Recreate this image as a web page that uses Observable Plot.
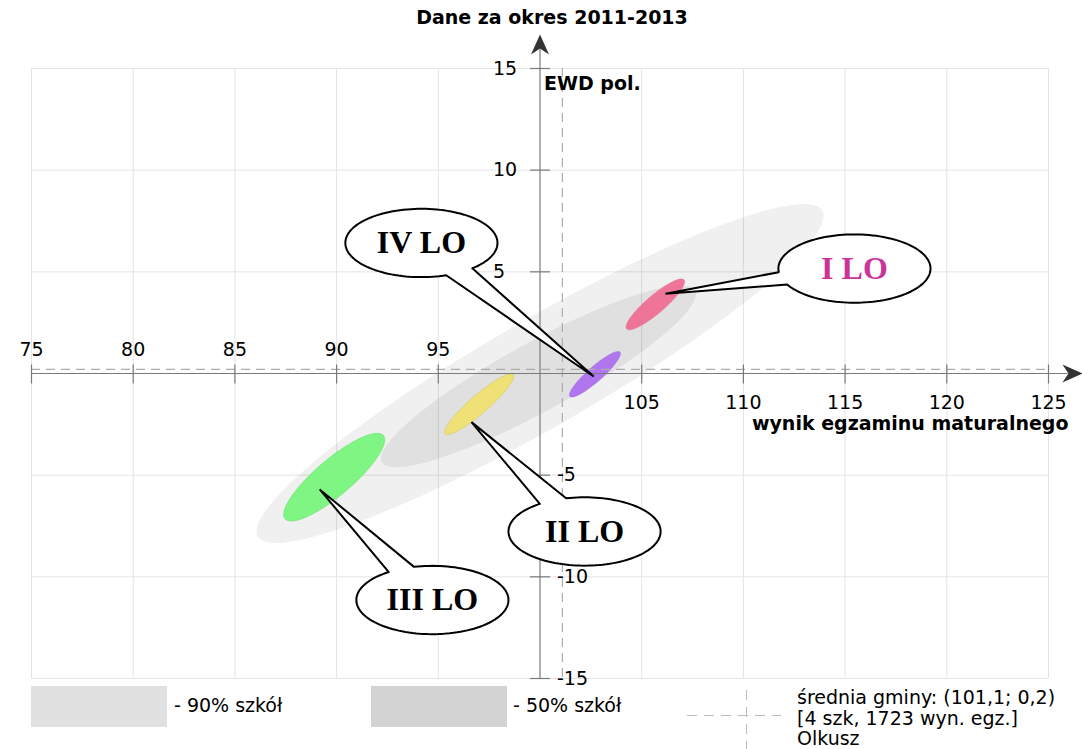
<!DOCTYPE html>
<html>
<head>
<meta charset="utf-8">
<script src="https://cdn.jsdelivr.net/npm/d3@7"></script>
<script src="https://cdn.jsdelivr.net/npm/@observablehq/plot@0.6"></script>
<style>
  body { margin: 0; background: #fff; font-family: "DejaVu Sans", sans-serif; color: #000; }
  #wrap { position: relative; width: 1082px; height: 749px; overflow: hidden; background: #fff; }
  #title { width: 1082px; height: 34px; line-height: 34px; box-sizing: border-box; padding-left: 22px;
           text-align: center; font-weight: bold; font-size: 19px; }
  #chart svg { display: block; }
  #legend { position: relative; width: 1082px; height: 63px; font-size: 19px; }
  #legend .sw { position: absolute; top: 0; width: 136px; height: 41px; }
  #legend .lab { position: absolute; top: 9px; line-height: 21px; white-space: nowrap; }
  #legend .dh { position: absolute; left: 687px; top: 29px; width: 94px; height: 1px;
                background: repeating-linear-gradient(to right, #bbb 0 10px, transparent 10px 17px); }
  #legend .dv { position: absolute; left: 746px; top: 4px; width: 1px; height: 59px;
                background: repeating-linear-gradient(to bottom, #bbb 0 10px, transparent 10px 17px); }
  #legend .info { position: absolute; left: 797px; top: 1px; line-height: 20.5px; white-space: nowrap; }
</style>
</head>
<body>
<div id="wrap">
  <div id="title"></div>
  <div id="chart"></div>
  <div id="legend"></div>
</div>
<script>
// ---------------- data ----------------
const titleText = "Dane za okres 2011-2013";
const xLabel = "wynik egzaminu maturalnego";
const yLabel = "EWD pol.";

// axis ticks
const xTicks = [75, 80, 85, 90, 95, 105, 110, 115, 120, 125];
const xTickLabels = ["75", "80", "85", "90", "95", "105", "110", "115", "120", "125"];
const yTicks = [15, 10, 5, -5, -10, -15];
const yTickLabels = ["15", "10", "5", "-5", "-10", "-15"];
const xGrid = [75, 80, 85, 90, 95, 105, 110, 115, 120, 125];
const yGrid = [15, 10, 5, -5, -10, -15];

// reference bands (ellipses of all schools)
const bandNames = ["90% szkół", "50% szkół"];
const bandCenterX = [100.0, 99.92];
const bandCenterY = [0.0, -0.14];
const bandMajor = [16.03, 8.78];
const bandMinor = [2.65, 1.69];
const bandAngle = [30.0, 28.7];

// schools (matura score, EWD) with their confidence ellipses
const schools = ["I LO", "II LO", "III LO", "IV LO"];
const schoolMatura = [105.67, 97.01, 89.88, 102.70];
const schoolEwd = [3.40, -1.51, -5.10, -0.04];
const schoolMajor = [1.85, 2.22, 3.17, 1.64];
const schoolMinor = [0.44, 0.45, 0.89, 0.36];
const schoolAngle = [40.5, 41.0, 40.3, 41.5];

// callout annotations (data units)
const calloutX = [115.46, 102.19, 94.71, 94.17];
const calloutY = [5.16, -7.77, -11.14, 6.42];
const calloutTipX = [106.17, 96.63, 89.17, 102.64];
const calloutTipY = [3.92, -2.39, -5.70, -0.15];
const calloutBaseFrom = [186, 104, 104, -71];
const calloutBaseTo = [208, 126, 125, -48];

// municipality average
const gminaX = 101.1;
const gminaY = 0.2;
const gminaInfo = ["średnia gminy: (101,1; 0,2)", "[4 szk, 1723 wyn. egz.]", "Olkusz"];

// ---------------- styles ----------------
const schoolFill = ["#ee6f93", "#efe070", "#78f47c", "#ad70ef"];
const schoolStroke = ["#e0668a", "#cfc05a", "#62d866", "#9a60dc"];
const labelFill = ["#cc3399", "#000", "#000", "#000"];
const bandOpacity = [0.06, 0.068];
const calloutRx = 3.74, calloutRy = 1.68;
const xAxisEnd = 126.67, yAxisEnd = 16.67;
const fs = 19;

// ---------------- helpers ----------------
function ellipse(cx, cy, a, b, deg, id, n = 120) {
  const r = deg * Math.PI / 180, pts = [];
  for (let k = 0; k <= n; k++) {
    const t = 2 * Math.PI * k / n;
    const u = a * Math.cos(t), v = b * Math.sin(t);
    pts.push({x: cx + u * Math.cos(r) - v * Math.sin(r), y: cy + u * Math.sin(r) + v * Math.cos(r), id});
  }
  return pts;
}
function callout(i, n = 120) {
  const cx = calloutX[i], cy = calloutY[i];
  const t1 = calloutBaseFrom[i], t2 = calloutBaseTo[i];
  const span = 360 - (t2 - t1), pts = [];
  for (let k = 0; k <= n; k++) {
    const t = (t2 + span * k / n) * Math.PI / 180;
    pts.push({x: cx + calloutRx * Math.cos(t), y: cy + calloutRy * Math.sin(t), id: i});
  }
  pts.push({x: calloutTipX[i], y: calloutTipY[i], id: i});
  pts.push({...pts[0]});
  return pts;
}

const arrowHead = {draw(ctx) { ctx.moveTo(0, 0); ctx.lineTo(-20, -9); ctx.lineTo(-14, 0); ctx.lineTo(-20, 9); ctx.closePath(); }};
const vTick = {draw(ctx) { ctx.moveTo(0, -9); ctx.lineTo(0, 10); }};
const hTick = {draw(ctx) { ctx.moveTo(-10, 0); ctx.lineTo(10, 0); }};

const xTickRows = xTicks.map((v, i) => ({v, label: xTickLabels[i]}));
const yTickRows = yTicks.map((v, i) => ({v, label: yTickLabels[i]}));

// ---------------- marks ----------------
const marks = [
  Plot.ruleX(xGrid, {stroke: "#e4e4e4", strokeWidth: 1}),
  Plot.ruleY(yGrid, {stroke: "#e4e4e4", strokeWidth: 1}),
];
bandNames.forEach((name, i) => {
  marks.push(Plot.line(ellipse(bandCenterX[i], bandCenterY[i], bandMajor[i], bandMinor[i], bandAngle[i], name),
    {x: "x", y: "y", z: "id", fill: "black", fillOpacity: bandOpacity[i], stroke: "none"}));
});
schools.forEach((s, i) => {
  marks.push(Plot.line(ellipse(schoolMatura[i], schoolEwd[i], schoolMajor[i], schoolMinor[i], schoolAngle[i], s),
    {x: "x", y: "y", z: "id", fill: schoolFill[i], fillOpacity: 0.95, stroke: schoolStroke[i], strokeWidth: 0.8, strokeOpacity: 0.6}));
});
marks.push(
  // municipality mean (dashed)
  Plot.ruleX([gminaX], {stroke: "#adadad", strokeWidth: 1.2, strokeDasharray: "9,6"}),
  Plot.ruleY([gminaY], {stroke: "#adadad", strokeWidth: 1.2, strokeDasharray: "9,6"}),
  // axes
  Plot.ruleY([0], {x1: 75, x2: xAxisEnd - 0.7, stroke: "#7a7a7a", strokeWidth: 1.2}),
  Plot.ruleX([100], {y1: -15, y2: yAxisEnd - 0.7, stroke: "#7a7a7a", strokeWidth: 1.2}),
  Plot.dot([0], {x: () => xAxisEnd, y: () => 0, symbol: arrowHead, fill: "#333", stroke: "none"}),
  Plot.dot([0], {x: () => 100, y: () => yAxisEnd, symbol: arrowHead, rotate: -90, fill: "#333", stroke: "none"}),
  Plot.dot(xTicks, {x: d => d, y: () => 0, symbol: vTick, fill: "none", stroke: "#7a7a7a", strokeWidth: 1.2}),
  Plot.dot(yTicks, {x: () => 100, y: d => d, symbol: hTick, fill: "none", stroke: "#7a7a7a", strokeWidth: 1.2}),
  // tick labels
  Plot.text(xTickRows.filter(d => d.v < 100), {x: "v", y: () => 0, text: "label", dy: -24, fontSize: fs, fontFamily: "DejaVu Sans", fill: "black"}),
  Plot.text(xTickRows.filter(d => d.v > 100), {x: "v", y: () => 0, text: "label", dy: 29, fontSize: fs, fontFamily: "DejaVu Sans", fill: "black"}),
  Plot.text(yTickRows.filter(d => d.v > 0), {x: () => 100, y: "v", text: "label", dx: -47, textAnchor: "start", fontSize: fs, fontFamily: "DejaVu Sans", fill: "black"}),
  Plot.text(yTickRows.filter(d => d.v < 0), {x: () => 100, y: "v", text: "label", dx: 17, textAnchor: "start", fontSize: fs, fontFamily: "DejaVu Sans", fill: "black"}),
  // axis titles
  Plot.text([yLabel], {x: () => 100, y: () => 15, text: d => d, dx: 4, dy: 15, textAnchor: "start", fontSize: fs, fontWeight: "bold", fontFamily: "DejaVu Sans", fill: "black"}),
  Plot.text([xLabel], {x: () => 125, y: () => 0, text: d => d, dx: 20, dy: 50, textAnchor: "end", fontSize: fs, fontWeight: "bold", fontFamily: "DejaVu Sans", fill: "black"})
);
schools.forEach((s, i) => {
  marks.push(Plot.line(callout(i), {x: "x", y: "y", z: "id", fill: "white", stroke: "black", strokeWidth: 2, strokeLinejoin: "miter"}));
  marks.push(Plot.text([s], {x: () => calloutX[i], y: () => calloutY[i], text: d => d, fontSize: 32, fontWeight: "bold",
    fontFamily: "Liberation Serif", fill: labelFill[i]}));
});

const chart = Plot.plot({
  width: 1082, height: 652,
  marginTop: 34, marginBottom: 8, marginLeft: 31, marginRight: 34,
  x: {domain: [75, 125], axis: null},
  y: {domain: [-15, 15], axis: null},
  style: {fontFamily: "DejaVu Sans", background: "white", overflow: "visible"},
  marks
});

document.getElementById("title").textContent = titleText;
document.getElementById("chart").appendChild(chart);

// ---------------- legend ----------------
const legend = document.getElementById("legend");
const legendItems = [
  {left: 31, color: "#e0e0e0", labelLeft: 174, text: "- " + bandNames[0]},
  {left: 371, color: "#d3d3d3", labelLeft: 513, text: "- " + bandNames[1]}
];
legendItems.forEach(it => {
  const sw = document.createElement("div");
  sw.className = "sw"; sw.style.left = it.left + "px"; sw.style.background = it.color;
  legend.appendChild(sw);
  const lab = document.createElement("div");
  lab.className = "lab"; lab.style.left = it.labelLeft + "px"; lab.textContent = it.text;
  legend.appendChild(lab);
});
const dh = document.createElement("div"); dh.className = "dh"; legend.appendChild(dh);
const dv = document.createElement("div"); dv.className = "dv"; legend.appendChild(dv);
const info = document.createElement("div"); info.className = "info";
gminaInfo.forEach(line => { const d = document.createElement("div"); d.textContent = line; info.appendChild(d); });
legend.appendChild(info);
</script>
</body>
</html>
